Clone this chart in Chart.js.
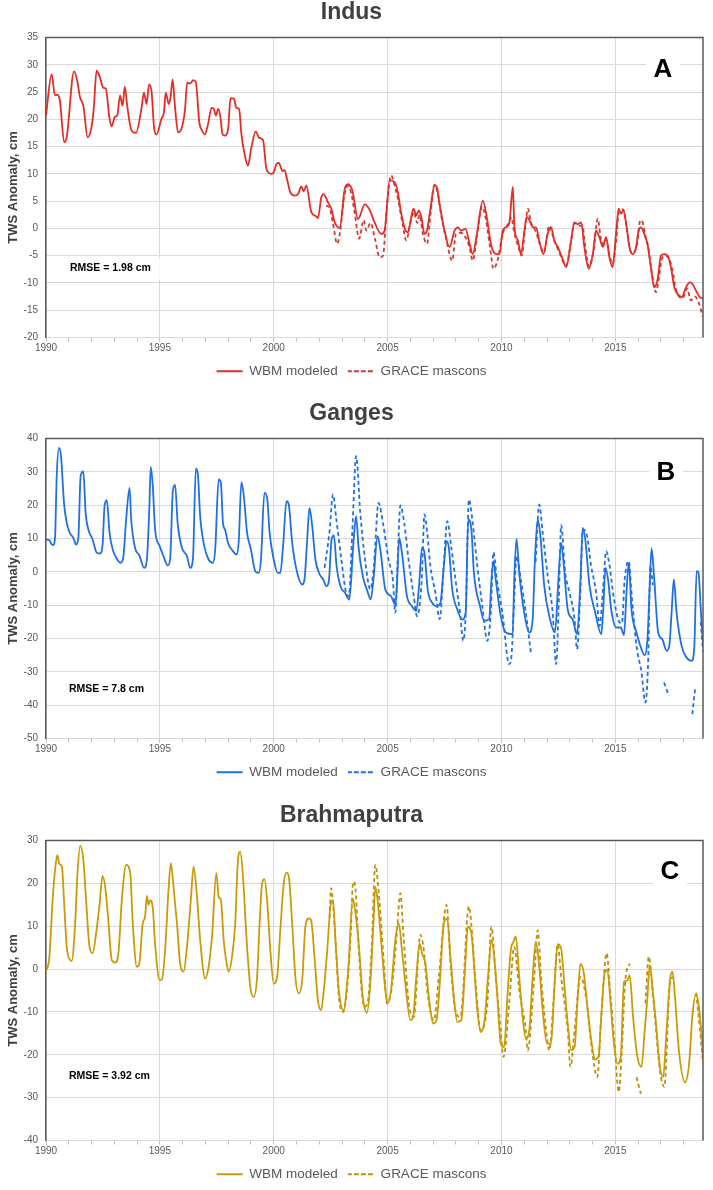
<!DOCTYPE html>
<html>
<head>
<meta charset="utf-8">
<script src="https://cdn.jsdelivr.net/npm/chart.js@4.4.1/dist/chart.umd.min.js"></script>
<style>
  html, body { margin: 0; padding: 0; background: #fff; }
  body { width: 713px; height: 1190px; position: relative; overflow: hidden; }
  .panel { position: absolute; left: 0; width: 713px; height: 388px; }
</style>
</head>
<body>
<div class="panel" style="top:0px"><canvas id="indus"></canvas></div>
<div class="panel" style="top:401px"><canvas id="ganges"></canvas></div>
<div class="panel" style="top:803px"><canvas id="brahmaputra"></canvas></div>
<script>
// ---- data (decimal years, TWS anomaly in cm) ----
var indusYears = [1990.00,1990.25,1990.39,1990.50,1990.61,1990.80,1990.91,1991.23,1991.37,1991.49,1991.64,1991.83,1992.00,1992.10,1992.22,1992.37,1992.51,1992.63,1992.78,1992.88,1993.03,1993.13,1993.25,1993.36,1993.46,1993.57,1993.76,1993.95,1994.20,1994.30,1994.42,1994.52,1994.63,1994.75,1994.85,1995.07,1995.18,1995.26,1995.39,1995.47,1995.56,1995.66,1995.80,1995.95,1996.10,1996.20,1996.35,1996.46,1996.58,1996.73,1996.86,1996.97,1997.12,1997.27,1997.37,1997.46,1997.56,1997.66,1997.75,1997.85,1998.00,1998.10,1998.25,1998.36,1998.48,1998.58,1998.73,1998.87,1999.02,1999.21,1999.36,1999.53,1999.68,1999.90,2000.00,2000.12,2000.23,2000.38,2000.48,2000.58,2000.73,2000.92,2001.07,2001.21,2001.32,2001.43,2001.65,2001.87,2001.94,2002.09,2002.19,2002.38,2002.53,2002.68,2002.90,2003.11,2003.26,2003.45,2003.70,2004.00,2004.21,2004.43,2004.72,2004.87,2005.09,2005.31,2005.45,2005.60,2005.79,2005.89,2006.04,2006.14,2006.26,2006.37,2006.48,2006.62,2006.73,2006.87,2007.06,2007.16,2007.28,2007.50,2007.72,2007.94,2008.08,2008.23,2008.42,2008.60,2008.74,2008.92,2009.18,2009.33,2009.55,2009.77,2009.91,2010.06,2010.20,2010.35,2010.50,2010.57,2010.72,2010.86,2011.01,2011.11,2011.23,2011.38,2011.52,2011.67,2011.84,2012.03,2012.18,2012.32,2012.47,2012.66,2012.84,2013.06,2013.20,2013.35,2013.50,2013.64,2013.83,2014.01,2014.15,2014.30,2014.45,2014.59,2014.74,2014.88,2015.03,2015.15,2015.25,2015.35,2015.50,2015.62,2015.76,2015.91,2016.02,2016.12,2016.27,2016.42,2016.56,2016.71,2016.86,2017.00,2017.15,2017.30,2017.44,2017.59,2017.73,2017.92,2018.10,2018.27,2018.39,2018.54,2018.71,2018.85];
var indusWbm = [20.7,28.3,24.4,24.5,23.4,15.8,16.7,28.8,27.1,24.1,22.5,16.7,18.6,22.2,28.9,27.7,25.8,25.6,20.4,18.7,20.5,20.7,24.4,22.5,26.0,22.3,17.9,17.5,22.2,24.9,22.8,26.4,25.3,18.3,17.2,20.1,21.3,24.9,22.8,24.1,27.3,22.5,17.6,18.3,21.6,26.7,26.6,27.2,26.8,19.5,17.9,17.2,19.2,22.1,21.9,20.7,21.9,20.4,17.3,17.0,18.3,23.9,23.8,22.1,21.9,17.3,13.4,11.5,14.9,17.8,16.6,16.2,10.9,10.0,10.3,11.8,12.0,10.5,10.7,9.1,6.6,6.0,6.3,7.7,6.8,7.9,3.0,2.2,1.9,5.7,6.3,4.8,3.6,1.1,0.1,7.1,8.1,7.0,1.7,4.4,3.4,1.1,-1.0,-0.4,8.8,8.5,6.6,2.7,-0.4,-0.7,2.1,3.6,2.4,3.3,2.1,-1.0,-0.4,3.3,7.9,7.6,4.5,-0.4,-3.4,-0.4,0.2,-0.4,-0.1,-2.8,-4.7,-1.0,5.1,2.7,-3.1,-4.7,-4.7,-0.4,0.2,1.1,7.6,0.2,-2.2,-4.7,-0.4,2.1,1.5,0.2,0.2,-2.5,-4.7,-1.0,0.2,-2.2,-3.4,-5.3,-7.1,-2.2,1.1,0.8,1.1,-3.4,-7.4,-4.7,-0.4,-1.6,-3.4,-1.6,-5.3,-7.1,-1.0,3.6,2.7,3.3,0.2,-3.4,-4.7,-3.4,-0.4,0.2,-1.0,-3.1,-7.1,-10.8,-9.3,-5.0,-4.7,-5.0,-7.1,-10.8,-12.0,-12.6,-10.8,-9.9,-10.2,-11.4,-12.6,-12.8];
var indusGraceYears = [2002.30,2002.45,2002.60,2002.78,2002.92,2003.10,2003.25,2003.40,2003.55,2003.75,2003.95,2004.07,2004.25,2004.45,2004.65,2004.80,2004.95,2005.16,2005.30,2005.45,2005.65,2005.82,2006.00,2006.15,2006.30,2006.40,2006.55,2006.73,2006.88,2007.06,2007.20,2007.35,2007.55,2007.84,2008.00,2008.20,2008.40,2008.60,2008.74,2008.92,2009.15,2009.30,2009.50,2009.65,2009.85,2010.05,2010.25,2010.45,2010.55,2010.75,2010.88,2011.05,2011.16,2011.30,2011.50,2011.70,2011.85,2012.10,2012.30,2012.50,2012.84,2013.05,2013.20,2013.40,2013.55,2013.70,2013.85,2014.05,2014.23,2014.35,2014.50,2014.60,2014.75,2014.88,2015.05,2015.15,2015.35,2015.50,2015.65,2015.80,2015.95,2016.10,2016.20,2016.30,2016.45,2016.60,2016.78,2016.90,2017.05,2017.20,2017.35,2017.50,2017.65,2017.80,2017.95,2018.15,2018.32,2018.50,2018.65,2018.85];
var indusGrace = [4.2,3.8,1.0,-2.8,-0.5,6.0,7.8,6.5,3.0,-1.9,1.5,-0.4,1.0,-2.0,-5.3,-5.0,3.0,9.7,8.0,5.5,1.0,-2.2,1.0,3.0,1.0,2.5,-1.0,-2.8,2.5,8.0,6.5,2.5,-1.5,-5.9,-1.0,-0.8,-1.5,-3.5,-5.9,-1.5,4.0,2.0,-3.5,-7.4,-5.5,-1.0,0.5,2.0,-0.5,-3.5,-5.0,0.5,3.6,1.0,-0.5,-3.0,-4.5,0.5,-2.0,-4.0,-6.8,-2.5,1.0,0.5,0.5,-4.0,-7.0,-4.0,1.8,-1.5,-3.0,-2.0,-5.0,-6.5,-1.5,3.0,3.5,0.0,-4.0,-4.5,-3.0,1.5,1.1,-1.0,-3.5,-8.0,-11.7,-9.5,-5.5,-5.0,-5.5,-7.5,-11.0,-12.5,-12.8,-11.0,-13.2,-12.5,-13.5,-16.3];

var gangesYears = [1990.00,1990.15,1990.25,1990.32,1990.40,1990.47,1990.57,1990.66,1990.79,1990.91,1991.06,1991.20,1991.32,1991.42,1991.52,1991.64,1991.74,1991.86,1992.05,1992.23,1992.38,1992.49,1992.57,1992.67,1992.79,1992.93,1993.11,1993.28,1993.40,1993.52,1993.67,1993.74,1993.91,1994.10,1994.31,1994.43,1994.53,1994.60,1994.69,1994.79,1994.99,1995.16,1995.34,1995.45,1995.57,1995.67,1995.78,1995.97,1996.19,1996.33,1996.45,1996.58,1996.67,1996.77,1996.95,1997.14,1997.33,1997.43,1997.58,1997.68,1997.77,1997.87,1997.99,1998.21,1998.36,1998.46,1998.58,1998.68,1998.83,1999.00,1999.19,1999.34,1999.44,1999.59,1999.71,1999.82,2000.00,2000.18,2000.29,2000.41,2000.56,2000.66,2000.81,2001.03,2001.25,2001.35,2001.47,2001.57,2001.69,2001.83,2002.02,2002.17,2002.32,2002.42,2002.54,2002.64,2002.76,2002.93,2003.13,2003.32,2003.50,2003.62,2003.72,2003.91,2004.09,2004.26,2004.38,2004.56,2004.68,2004.90,2005.15,2005.34,2005.41,2005.51,2005.63,2005.85,2006.07,2006.26,2006.38,2006.51,2006.62,2006.76,2006.96,2007.18,2007.32,2007.47,2007.59,2007.69,2007.84,2008.06,2008.28,2008.43,2008.54,2008.68,2008.79,2009.06,2009.24,2009.46,2009.56,2009.65,2009.75,2009.97,2010.19,2010.49,2010.56,2010.66,2010.78,2011.00,2011.22,2011.37,2011.47,2011.59,2011.71,2011.88,2012.10,2012.35,2012.50,2012.62,2012.74,2012.91,2013.13,2013.32,2013.47,2013.57,2013.68,2013.87,2014.12,2014.38,2014.46,2014.57,2014.68,2014.82,2015.04,2015.24,2015.38,2015.49,2015.59,2015.71,2015.93,2016.15,2016.29,2016.41,2016.51,2016.59,2016.71,2016.88,2017.06,2017.25,2017.37,2017.47,2017.57,2017.69,2017.91,2018.13,2018.35,2018.47,2018.57,2018.65,2018.76,2018.85];
var gangesWbm = [9.7,9.5,8.2,8.0,10.7,28.7,37.2,34.7,20.7,14.7,11.5,10.2,8.2,10.2,28.7,30.1,17.7,12.7,9.7,5.7,5.5,8.7,19.7,21.5,11.7,6.7,3.9,2.7,4.7,15.7,25.2,15.7,7.2,4.9,1.2,3.7,17.7,31.5,25.7,12.7,7.7,4.7,1.9,3.7,24.2,26.1,14.7,7.2,4.7,1.2,3.7,31.0,29.2,16.7,7.7,3.7,2.7,6.7,27.7,26.7,14.7,12.5,8.7,6.2,5.2,8.7,26.9,23.2,11.7,6.7,0.2,-0.3,3.7,23.7,22.2,11.7,3.7,-0.3,-0.3,7.7,21.2,20.2,8.7,-0.3,-3.8,-2.3,9.7,19.2,13.7,3.7,-0.8,-2.3,-4.3,-2.8,9.7,10.9,1.7,-4.3,-6.3,-8.3,8.7,16.7,7.7,-1.3,-5.3,-8.3,-2.3,10.7,6.7,-5.3,-7.3,-9.8,-4.3,10.2,5.7,-7.3,-10.3,-11.7,-4.3,7.2,5.7,-5.3,-9.3,-10.3,-9.3,1.7,9.2,7.2,-5.3,-11.3,-14.3,-12.3,15.7,12.7,-0.3,-10.3,-14.7,-14.2,-2.3,3.2,-2.3,-13.3,-18.2,-18.7,-2.3,9.9,-0.3,-12.3,-18.2,-14.3,3.7,15.7,10.7,-4.3,-13.3,-18.2,-2.3,8.7,1.7,-11.3,-14.3,-18.7,-2.3,13.2,9.7,-4.3,-12.3,-18.7,-12.3,1.2,-2.3,-11.3,-16.7,-16.7,-19.0,-6.3,2.7,-11.3,-18.2,-23.2,-25.0,-20.2,-4.3,7.0,-2.3,-18.2,-20.2,-23.7,-22.2,-12.3,-2.3,-12.3,-22.2,-25.7,-26.7,-22.2,0.2,-0.1,-12.3,-21.5];
var gangesGraceYears = [2002.23,2002.45,2002.60,2002.75,2002.97,2003.18,2003.30,2003.45,2003.62,2003.80,2004.01,2004.24,2004.40,2004.60,2004.82,2005.04,2005.23,2005.34,2005.45,2005.56,2005.73,2005.92,2006.15,2006.29,2006.50,2006.62,2006.74,2006.88,2007.10,2007.29,2007.47,2007.62,2007.79,2007.98,2008.18,2008.32,2008.43,2008.57,2008.72,2008.94,2009.16,2009.38,2009.53,2009.65,2009.80,2010.04,2010.34,2010.44,2010.56,2010.66,2010.85,2011.07,2011.29,2011.40,2011.50,2011.66,2011.81,2012.03,2012.25,2012.40,2012.52,2012.62,2012.80,2012.99,2013.21,2013.32,2013.47,2013.57,2013.76,2013.94,2014.16,2014.31,2014.46,2014.60,2014.75,2014.90,2015.12,2015.29,2015.41,2015.59,2015.71,2015.93,2016.15,2016.32,2016.44,2016.54,2016.65,2016.90,2017.14,2017.35,2017.80,2018.38,2018.50,2018.62,2018.75,2018.85];
var gangesGrace = [1.2,12.0,23.2,15.7,3.7,-6.3,-7.3,12.0,34.7,17.7,3.7,-5.3,2.0,20.7,13.7,3.7,-2.3,-12.3,5.0,19.9,14.7,3.7,-7.3,-13.3,-2.3,17.2,11.7,1.7,-6.3,-14.2,2.7,15.2,7.7,-2.3,-12.3,-20.7,-12.3,21.7,15.7,1.7,-10.3,-20.7,-12.3,5.9,-2.3,-12.3,-27.7,-25.2,-8.3,4.7,-2.3,-12.3,-24.2,null,3.0,20.2,11.7,-1.3,-12.3,-27.7,-8.0,14.0,-0.3,-6.3,-14.2,-23.2,-5.0,12.7,10.7,1.7,-6.3,-16.2,-5.0,6.2,1.7,-6.3,-14.2,-15.5,-2.3,3.2,-6.3,-22.2,-30.2,-39.2,-27.2,1.7,-4.0,null,-33.2,-37.2,null,-42.7,-35.2,null,-15.0,-24.0];

var brahmaYears = [1990.00,1990.15,1990.29,1990.44,1990.50,1990.59,1990.70,1990.79,1990.91,1991.06,1991.13,1991.28,1991.38,1991.50,1991.64,1991.76,1991.91,1992.05,1992.20,1992.35,1992.48,1992.60,1992.74,1992.89,1993.04,1993.18,1993.33,1993.52,1993.70,1993.81,1993.99,1994.10,1994.25,1994.35,1994.43,1994.50,1994.57,1994.69,1994.79,1994.99,1995.09,1995.23,1995.38,1995.48,1995.60,1995.75,1995.89,1996.04,1996.19,1996.36,1996.48,1996.63,1996.77,1996.99,1997.14,1997.29,1997.48,1997.58,1997.68,1997.80,1997.92,1998.02,1998.17,1998.31,1998.42,1998.53,1998.65,1998.80,1998.97,1999.12,1999.27,1999.38,1999.49,1999.59,1999.71,1999.85,2000.00,2000.15,2000.29,2000.44,2000.56,2000.66,2000.81,2000.95,2001.10,2001.25,2001.39,2001.54,2001.64,2001.79,2001.94,2002.08,2002.20,2002.35,2002.49,2002.60,2002.71,2002.86,2003.06,2003.28,2003.47,2003.57,2003.72,2003.91,2004.09,2004.24,2004.38,2004.46,2004.56,2004.75,2004.90,2005.00,2005.15,2005.34,2005.49,2005.63,2005.78,2006.00,2006.12,2006.26,2006.41,2006.51,2006.66,2006.81,2007.00,2007.15,2007.29,2007.47,2007.62,2007.76,2007.91,2008.06,2008.24,2008.38,2008.53,2008.68,2008.82,2008.94,2009.09,2009.26,2009.41,2009.56,2009.68,2009.82,2009.97,2010.12,2010.26,2010.41,2010.53,2010.63,2010.78,2010.93,2011.07,2011.22,2011.37,2011.51,2011.66,2011.81,2012.00,2012.18,2012.32,2012.47,2012.62,2012.76,2012.91,2013.06,2013.21,2013.35,2013.47,2013.62,2013.76,2013.94,2014.12,2014.26,2014.38,2014.53,2014.65,2014.79,2014.94,2015.09,2015.24,2015.38,2015.53,2015.63,2015.78,2015.97,2016.15,2016.29,2016.41,2016.51,2016.62,2016.76,2016.96,2017.10,2017.25,2017.40,2017.51,2017.62,2017.79,2018.06,2018.24,2018.38,2018.53,2018.65,2018.79,2018.85];
var brahmaWbm = [-0.6,2.9,16.1,25.1,26.6,24.5,23.9,16.1,5.2,2.1,1.9,10.7,22.0,28.8,25.5,16.1,5.2,3.7,8.3,15.0,21.7,19.2,11.1,2.1,1.5,3.7,16.1,24.3,22.4,10.7,0.5,1.3,10.7,12.2,17.1,15.0,16.1,14.2,6.0,-2.6,-2.4,4.4,18.5,24.7,19.2,10.7,1.3,-0.6,5.2,16.1,23.9,16.9,6.8,-2.2,0.5,7.6,22.4,16.9,16.1,6.8,1.7,-0.6,2.9,10.7,24.7,27.4,21.6,7.6,-4.1,-6.5,-1.8,10.7,20.0,21.0,16.1,4.4,-3.4,-1.8,9.1,20.0,22.5,21.6,10.7,-1.8,-5.7,-2.6,9.9,11.8,11.4,2.9,-7.3,-9.6,-4.9,4.4,14.6,16.1,6.8,-4.9,-9.6,0.5,16.5,13.8,6.8,-6.5,-10.2,-3.4,10.7,19.2,16.1,4.4,-4.9,-8.0,-4.9,6.8,10.7,4.4,-3.4,-11.9,-11.2,-1.8,6.0,3.7,1.3,-6.5,-12.7,-11.9,-3.4,10.7,11.8,2.9,-6.5,-12.3,-11.9,-1.8,9.9,8.3,-1.0,-9.6,-14.7,-11.9,-1.8,6.8,2.9,-6.5,-17.4,-18.2,-6.5,4.4,6.4,7.6,-1.8,-11.2,-16.2,-14.3,-1.8,6.4,0.5,-9.6,-17.4,-17.4,-4.9,5.8,4.8,-3.4,-12.7,-18.9,-18.2,-6.5,1.2,-1.0,-8.0,-16.5,-21.1,-20.5,-11.2,-1.0,-0.2,-8.0,-17.4,-22.1,-20.5,-3.0,-2.7,-1.4,-11.2,-20.5,-22.8,-14.3,-6.5,0.9,-3.8,-11.2,-22.8,-25.2,-14.3,-2.6,-0.6,-6.5,-18.9,-26.4,-22.1,-11.2,-5.9,-8.0,-15.8,-21.0];
var brahmaGraceYears = [2002.45,2002.52,2002.71,2002.86,2003.05,2003.23,2003.38,2003.49,2003.57,2003.75,2003.97,2004.12,2004.30,2004.46,2004.60,2004.84,2004.97,2005.19,2005.40,2005.56,2005.70,2005.93,2006.15,2006.44,2006.59,2006.74,2007.03,2007.25,2007.59,2007.76,2007.98,2008.20,2008.57,2008.72,2008.87,2009.09,2009.38,2009.56,2009.75,2009.97,2010.09,2010.34,2010.56,2010.78,2011.07,2011.15,2011.44,2011.59,2011.74,2011.96,2012.10,2012.29,2012.47,2012.62,2012.91,2013.03,2013.21,2013.47,2013.71,2013.94,2014.21,2014.38,2014.62,2014.77,2014.97,2015.15,2015.27,2015.44,2015.63,2015.80,2015.93,2016.12,2016.22,2016.32,2016.47,2016.66,2016.96,2017.15,2017.40,2017.54,2018.00,2018.55,2018.72,2018.85];
var brahmaGrace = [12.0,18.9,6.8,-6.5,-10.0,-4.0,8.0,20.4,19.6,2.9,-8.8,-8.0,5.0,24.3,18.5,1.3,-8.0,-4.0,8.0,17.7,7.6,-8.0,-11.2,8.0,4.4,-5.0,-12.0,-1.8,15.0,1.3,-9.6,-11.2,14.6,7.6,-3.4,-14.3,-8.0,9.9,-1.8,-14.3,-20.5,-8.0,5.2,-4.9,-14.3,-19.0,-1.8,9.1,-1.8,-14.3,-19.0,-7.0,5.8,-1.8,-14.3,-22.8,-14.3,-1.8,-6.5,-17.4,-25.2,-11.2,3.7,-4.9,-17.4,-28.7,-20.5,-2.6,1.3,null,-25.2,-29.1,null,-8.0,2.9,-6.5,-23.7,-27.5,-3.4,-1.8,null,-5.5,-14.3,-22.0];

var xTickStep = 1;
var yTitle = 'TWS Anomaly, cm';
var legendNames = ['WBM modeled', 'GRACE mascons'];

var tickFont = '"Liberation Sans Narrow", "Liberation Sans", Arial, sans-serif';
var mainFont = '"Liberation Sans", Arial, sans-serif';

function pairs(xs, ys) {
    var out = [];
    for (var i = 0; i < xs.length; i++) {
        out.push({x: xs[i], y: ys[i]});
    }
    return out;
}

// top and right edges of the plot frame
var framePlugin = {
    id: 'frame',
    afterDatasetsDraw: function(chart) {
        var a = chart.chartArea, ctx = chart.ctx;
        ctx.save();
        ctx.strokeStyle = '#595959';
        ctx.lineWidth = 1.5;
        ctx.beginPath();
        ctx.moveTo(a.left, a.top);
        ctx.lineTo(a.right, a.top);
        ctx.lineTo(a.right, a.bottom);
        ctx.stroke();
        ctx.restore();
    }
};

// panel letter and RMSE note, on white boxes over the grid
var notePlugin = {
    id: 'notes',
    beforeDatasetsDraw: function(chart, args, opts) {
        var a = chart.chartArea, ctx = chart.ctx;
        ctx.save();
        ctx.textBaseline = 'middle';

        ctx.font = 'bold 26px ' + mainFont;
        ctx.textAlign = 'center';
        var lx = a.right - opts.letterDx, ly = a.top + opts.letterDy;
        ctx.fillStyle = '#fff';
        ctx.fillRect(lx - 17, ly - 15, 34, 30);
        ctx.fillStyle = '#000';
        ctx.fillText(opts.letter, lx, ly + 1);

        ctx.font = 'bold 10.5px ' + mainFont;
        ctx.textAlign = 'left';
        var rx = a.left + opts.rmseDx, ry = a.top + opts.rmseDy;
        var w = ctx.measureText(opts.rmse).width;
        ctx.fillStyle = '#fff';
        ctx.fillRect(rx - 5, ry - 11, w + 14, 22);
        ctx.fillStyle = '#000';
        ctx.fillText(opts.rmse, rx, ry);
        ctx.restore();
    }
};

function panelChart(id, p) {
    return new Chart(document.getElementById(id), {
        type: 'line',
        data: {
            datasets: [{
                label: legendNames[0],
                data: pairs(p.years, p.wbm),
                borderColor: p.color,
                backgroundColor: p.color,
                borderWidth: 1.8,
                pointRadius: 0,
                cubicInterpolationMode: 'monotone',
                spanGaps: false
            }, {
                label: legendNames[1],
                data: pairs(p.graceYears, p.grace),
                borderColor: p.dashColor,
                backgroundColor: p.dashColor,
                borderWidth: 1.8,
                borderDash: [4, 3],
                pointRadius: 0,
                cubicInterpolationMode: 'monotone',
                spanGaps: false
            }]
        },
        options: {
            responsive: true,
            maintainAspectRatio: false,
            animation: false,
            layout: {padding: {left: 0, right: 10, top: 0, bottom: 0}},
            scales: {
                x: {
                    type: 'linear',
                    min: 1990,
                    max: 2018.85,
                    // labels are clipped to the axis box, so it must hold them
                    afterFit: function(s) { s.height = 17; },
                    ticks: {
                        stepSize: xTickStep,
                        includeBounds: false,
                        autoSkip: false,
                        maxRotation: 0,
                        padding: 1,
                        color: '#595959',
                        font: {family: tickFont, size: 10},
                        callback: function(v) { return v % 5 === 0 ? String(v) : ''; }
                    },
                    grid: {
                        color: function(c) {
                            return (c.tick && c.tick.value % 5 === 0) ? '#d9d9d9' : 'rgba(0,0,0,0)';
                        },
                        tickColor: '#bfbfbf',
                        tickLength: 4
                    },
                    border: {color: '#d9d9d9'}
                },
                y: {
                    min: p.yMin,
                    max: p.yMax,
                    afterFit: function(s) { s.width = 46; },
                    ticks: {
                        stepSize: p.yStep,
                        padding: 8,
                        color: '#595959',
                        font: {family: tickFont, size: 10}
                    },
                    grid: {color: '#d9d9d9', drawTicks: false},
                    border: {color: '#595959', width: 1.5},
                    title: {
                        display: true,
                        text: yTitle,
                        color: '#404040',
                        font: {family: mainFont, size: 13, weight: 'bold'},
                        padding: {top: 6, bottom: 0}
                    }
                }
            },
            plugins: {
                title: {
                    display: true,
                    text: p.name,
                    color: '#404040',
                    font: {family: mainFont, size: 23, weight: 'bold', lineHeight: 1},
                    padding: {top: 1, bottom: 13.5}
                },
                legend: {
                    position: 'bottom',
                    labels: {
                        boxWidth: 26,
                        boxHeight: 0,
                        padding: 10,
                        color: '#595959',
                        font: {family: mainFont, size: 13.5}
                    }
                },
                tooltip: {enabled: false},
                notes: p.notes
            }
        },
        plugins: [framePlugin, notePlugin]
    });
}

panelChart('indus', {
    name: 'Indus', years: indusYears, wbm: indusWbm,
    graceYears: indusGraceYears, grace: indusGrace,
    color: '#e42d26', dashColor: '#d23a34',
    yMin: -20, yMax: 35, yStep: 5,
    notes: {letter: 'A', letterDx: 40, letterDy: 31, rmse: 'RMSE = 1.98 cm', rmseDx: 24, rmseDy: 231}
});
panelChart('ganges', {
    name: 'Ganges', years: gangesYears, wbm: gangesWbm,
    graceYears: gangesGraceYears, grace: gangesGrace,
    color: '#1f6fe5', dashColor: '#1f6fe5',
    yMin: -50, yMax: 40, yStep: 10,
    notes: {letter: 'B', letterDx: 37, letterDy: 33, rmse: 'RMSE = 7.8 cm', rmseDx: 23, rmseDy: 251}
});
panelChart('brahmaputra', {
    name: 'Brahmaputra', years: brahmaYears, wbm: brahmaWbm,
    graceYears: brahmaGraceYears, grace: brahmaGrace,
    color: '#cc9a06', dashColor: '#bb900c',
    yMin: -40, yMax: 30, yStep: 10,
    notes: {letter: 'C', letterDx: 33, letterDy: 30, rmse: 'RMSE = 3.92 cm', rmseDx: 23, rmseDy: 236}
});
</script>
</body>
</html>
